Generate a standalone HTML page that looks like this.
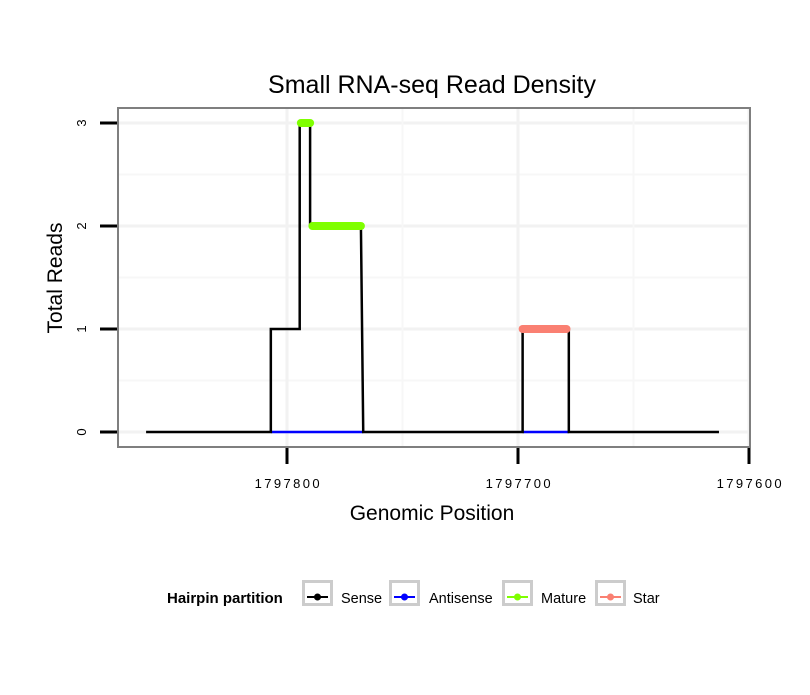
<!DOCTYPE html>
<html><head><meta charset="utf-8"><style>
body{margin:0;background:#fff;font-family:"Liberation Sans",sans-serif;}
</style></head><body>
<svg width="810" height="690" xmlns="http://www.w3.org/2000/svg" font-family="Liberation Sans, sans-serif">
<g id="plot"></g>
</svg>
<script>
const yTicks=[0,1,2,3];
const xTicks=[1797800,1797700,1797600];
const sensePos=[1797861,1797807,1797807,1797794.5,1797794.5,1797790,1797790,1797768,1797767,1797698,1797698,1797678,1797678,1797613];
const senseVal=[0,0,1,1,3,3,2,2,0,0,1,1,0,0];
const antiPos=[[1797807,1797767],[1797698,1797678]];
const maturePos=[[1797794,1797790,3],[1797789,1797768,2]];
const starPos=[[1797698,1797679,1]];
const legendLabels=["Sense","Antisense","Mature","Star"];
const legendColors=["#000000","#0000ff","#7fff00","#fa8072"];

const NS="http://www.w3.org/2000/svg";
const g=document.getElementById('plot');
const L=118,R=750,T=108,B=447;
const xs=p=>287+(1797800-p)*2.31;
const ys=v=>432-v*103;
function mk(t,a,parent){const e=document.createElementNS(NS,t);for(const k in a)e.setAttribute(k,a[k]);(parent||g).appendChild(e);return e;}

[0.5,1.5,2.5].forEach(v=>{const e=mk('line',{x1:L,x2:R,y1:ys(v),y2:ys(v),stroke:'#f7f7f7','stroke-width':2});

});
yTicks.forEach(v=>{const e=mk('line',{x1:L,x2:R,y1:ys(v),y2:ys(v),stroke:'#f2f2f2','stroke-width':3});

});
[1797750,1797650].forEach(p=>{const e=mk('line',{x1:xs(p),x2:xs(p),y1:T,y2:B,stroke:'#f7f7f7','stroke-width':2});

});
xTicks.forEach(p=>{const e=mk('line',{x1:xs(p),x2:xs(p),y1:T,y2:B,stroke:'#f2f2f2','stroke-width':3});

});

antiPos.forEach(a=>{const e=mk('line',{x1:xs(a[0]),x2:xs(a[1]),y1:ys(0),y2:ys(0),stroke:'#0000ff','stroke-width':2.5});

});
let d='';sensePos.forEach((p,i)=>{d+=(i?'L':'M')+xs(p)+' '+ys(senseVal[i]);});
const s=mk('path',{d:d,fill:'none',stroke:'#000','stroke-width':2.5});


maturePos.forEach(a=>{const e=mk('line',{x1:xs(a[0]),x2:xs(a[1]),y1:ys(a[2]),y2:ys(a[2]),stroke:'#7fff00','stroke-width':8,'stroke-linecap':'round'});

});
starPos.forEach(a=>{const e=mk('line',{x1:xs(a[0]),x2:xs(a[1]),y1:ys(a[2]),y2:ys(a[2]),stroke:'#fa8072','stroke-width':8,'stroke-linecap':'round'});

});

const bd=mk('rect',{x:L,y:T,width:R-L,height:B-T,fill:'none',stroke:'#7f7f7f','stroke-width':2});



yTicks.forEach(v=>{const e=mk('line',{x1:100,x2:117,y1:ys(v),y2:ys(v),stroke:'#000','stroke-width':3});


const t=mk('text',{x:86,y:ys(v),'font-size':13,'text-anchor':'middle',transform:`rotate(-90 86 ${ys(v)})`});t.textContent=v;

});
xTicks.forEach(p=>{const e=mk('line',{x1:xs(p),x2:xs(p),y1:448,y2:464,stroke:'#000','stroke-width':3});


const t=mk('text',{x:xs(p)+1.3,y:488,'font-size':13,'text-anchor':'middle','letter-spacing':2.4});t.textContent=p;

});

const tt=mk('text',{x:432,y:93,'font-size':25,'text-anchor':'middle'});tt.textContent='Small RNA-seq Read Density';


const xt=mk('text',{x:432,y:520,'font-size':21,'text-anchor':'middle'});xt.textContent='Genomic Position';


const yt=mk('text',{x:62,y:278,'font-size':21,'text-anchor':'middle',transform:'rotate(-90 62 278)'});yt.textContent='Total Reads';



const lt=mk('text',{x:167,y:603,'font-size':15,'font-weight':'bold'});lt.textContent='Hairpin partition';


const bx=[302,389,502,595];
const tx=[341,429,541,633];
legendLabels.forEach((lab,i)=>{
const r=mk('rect',{x:bx[i]+1.5,y:581.5,width:28,height:23,fill:'#fff',stroke:'#cccccc','stroke-width':3});


const l=mk('line',{x1:bx[i]+5,x2:bx[i]+26,y1:597,y2:597,stroke:legendColors[i],'stroke-width':2});


const c=mk('circle',{cx:bx[i]+15.5,cy:597,r:3.5,fill:legendColors[i]});


const t=mk('text',{x:tx[i],y:603,'font-size':14.5});t.textContent=lab;


});
</script>
</body></html>
